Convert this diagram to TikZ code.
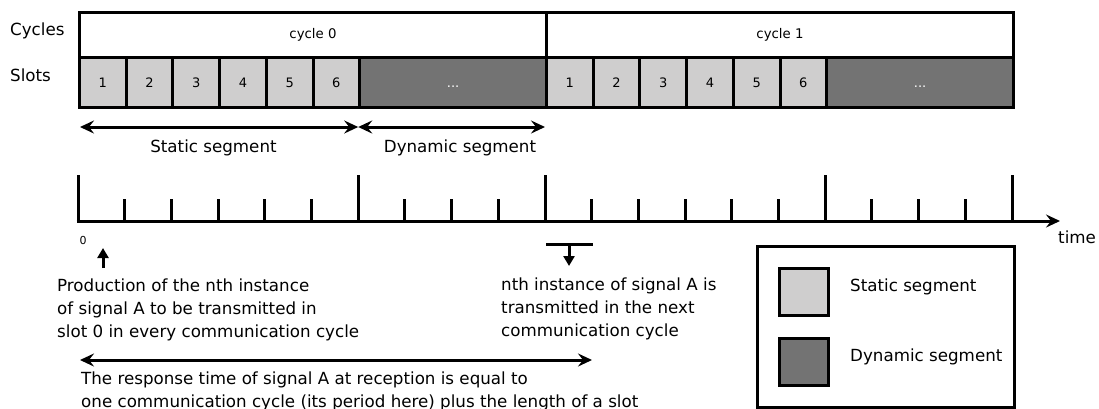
\documentclass[tikz,border=0pt]{standalone}
\usepackage{fontspec}
\setmainfont{DejaVu Sans}
\usetikzlibrary{arrows.meta}
\definecolor{lightseg}{RGB}{207,206,206}
\definecolor{darkseg}{RGB}{115,115,115}
\begin{document}
\begin{tikzpicture}[x=1pt,y=-1pt,
  box/.style={draw=black, line width=3pt, inner sep=0pt, anchor=north west},
  cyc/.style={box, fill=white, minimum width=467pt, minimum height=45pt,
    text height=10pt, text depth=3pt, font=\fontsize{13.3}{16}\selectfont},
  sslot/.style={box, fill=lightseg, minimum width=46.7pt, minimum height=50pt,
    text height=9.5pt, text depth=0pt, font=\fontsize{13}{16}\selectfont},
  dslot/.style={box, fill=darkseg, text=white, minimum width=186.8pt, minimum height=50pt,
    text height=9.5pt, text depth=0pt, font=\fontsize{13}{16}\selectfont},
  lbl/.style={font=\fontsize{16.7}{23}\selectfont, inner sep=0pt},
  swatch/.style={box, minimum width=49pt, minimum height=47pt},
  dbl/.style={line width=3pt, {Stealth[length=14pt,width=13pt,inset=5pt]}-{Stealth[length=14pt,width=13pt,inset=5pt]}},
  axisline/.style={line width=3pt, -{Stealth[length=14pt,width=13pt,inset=5pt]}},
  tickline/.style={line width=3pt},
  smallarrow/.style={line width=3pt, -{Triangle[length=10pt,width=11pt]}}
]
\useasboundingbox (0,0) rectangle (1099,408);

% row labels
\node[lbl, anchor=base west] (lcycles) at (10,35) {Cycles};
\node[lbl, anchor=base west] (lslots) at (10,81.7) {Slots};

% cycles
\node[cyc] (c0) at (78,11) {cycle 0};
\node[cyc] (c1) at (545,11) {cycle 1};

% slots
\foreach \c in {0,1}{
  \foreach \i in {1,...,6}{
    \node[sslot] (s\c\i) at ({78+\c*467+(\i-1)*46.7},56) {\i};
  }
  \node[dslot] (d\c) at ({78+\c*467+6*46.7},56) {...};
}

% segment arrows
\coordinate (sa0) at (80,127);
\coordinate (sa1) at (358.2,127);
\coordinate (da1) at (545,127);
\draw[dbl] (sa0) -- (sa1);
\draw[dbl] (sa1) -- (da1);
\node[lbl, anchor=base] (lstatic) at (213.5,152) {Static segment};
\node[lbl, anchor=base] (ldynamic) at (460,152) {Dynamic segment};

% time axis
\foreach \k in {0,...,20}{
  \pgfmathtruncatemacro\m{mod(\k,10)}
  \ifnum\m=0 \def\ty{175}\else\ifnum\m=6 \def\ty{175}\else\def\ty{199}\fi\fi
  \draw[tickline] ({78+\k*46.7},222.5) -- ({78+\k*46.7},\ty);
}
\coordinate (t0) at (76.5,221);
\coordinate (t1) at (1060,221);
\draw[axisline] (t0) -- (t1);
\node[lbl, anchor=base west] (ltime) at (1058,243.5) {time};
\node[font=\fontsize{11}{13}\selectfont, inner sep=0pt, anchor=base] (lzero) at (83,244) {0};

% production arrow
\coordinate (ua0) at (103,268);
\coordinate (ua1) at (103,248);
\draw[smallarrow] (ua0) -- (ua1);
\node[lbl, align=left, anchor=north west] (prod) at (57,279)
  {Production of the nth instance\\of signal A to be transmitted in\\slot 0 in every communication cycle};

% transmission marker
\coordinate (tb0) at (546,244);
\coordinate (tb1) at (593,244);
\coordinate (ta0) at (569,244);
\coordinate (ta1) at (569,266);
\draw[line width=3pt] (tb0) -- (tb1);
\draw[smallarrow] (ta0) -- (ta1);
\node[lbl, align=left, anchor=north west] (nth) at (501,278)
  {nth instance of signal A is\\transmitted in the next\\communication cycle};

% response time
\coordinate (r0) at (80,360);
\coordinate (r1) at (592,360);
\draw[dbl] (r0) -- (r1);
\node[lbl, align=left, anchor=north west] (resp) at (81,371.3)
  {The response time of signal A at reception is equal to\\one communication cycle (its period here) plus the length of a slot};

% legend
\node[box, fill=white, minimum width=257pt, minimum height=161pt] (legend) at (756,245) {};
\node[swatch, fill=lightseg] (lgs) at (778,267) {};
\node[swatch, fill=darkseg] (lgd) at (778,337) {};
\node[lbl, anchor=base west] (lgst) at (850,291.7) {Static segment};
\node[lbl, anchor=base west] (lgdt) at (850,361.7) {Dynamic segment};
\end{tikzpicture}
\end{document}
